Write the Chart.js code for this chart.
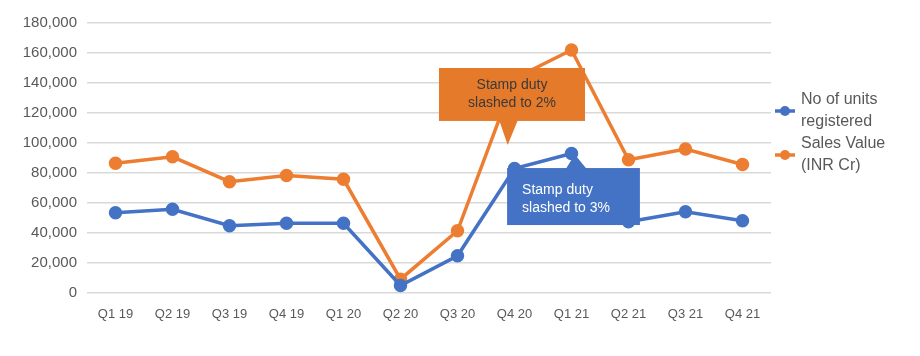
<!DOCTYPE html>
<html>
<head>
<meta charset="utf-8">
<script src="https://cdn.jsdelivr.net/npm/chart.js@4/dist/chart.umd.min.js"></script>
<style>
  html, body { margin: 0; padding: 0; background: #ffffff; }
  #wrap { width: 920px; height: 356px; position: relative; }
</style>
</head>
<body>
<div id="wrap"><canvas id="c" width="920" height="356"></canvas></div>
<script>
const categories = ['Q1 19','Q2 19','Q3 19','Q4 19','Q1 20','Q2 20','Q3 20','Q4 20','Q1 21','Q2 21','Q3 21','Q4 21'];
const unitsRegistered = [53500, 55800, 44800, 46500, 46500, 5000, 24800, 83000, 93000, 47500, 54200, 48200];
const salesValue = [86500, 90800, 74200, 78300, 75800, 9200, 41500, 143000, 162000, 88800, 96000, 85700];
const seriesNames = ['No of units registered', 'Sales Value (INR Cr)'];
const legendLines = [['No of units', 'registered'], ['Sales Value', '(INR Cr)']];
const yTicksMax = 180000;
const yStep = 20000;

const BLUE = '#4472C4';
const ORANGE = '#ED7D31';
const TXT = '#595959';
const FONT = '"Liberation Sans", Arial, sans-serif';

// callouts anchored in data coordinates (category index, value)
const callouts = [
  { lines: ['Stamp duty', 'slashed to 2%'], fill: '#E57A2A', color: '#3a3a3a', align: 'center',
    box: [5.675, 8.237, 150000, 114700], base: [6.73, 7.06], tip: [6.88, 98700], dir: 'down', textDy: 0 },
  { lines: ['Stamp duty', 'slashed to 3%'], fill: '#4472C4', color: '#ffffff', align: 'left',
    box: [6.87, 9.2, 83300, 45300], base: [7.9, 8.24], tip: [8.06, 92500], dir: 'up', textDy: 3 }
];

const calloutPlugin = {
  id: 'callouts',
  afterDatasetsDraw(chart) {
    const ctx = chart.ctx, xs = chart.scales.x, ys = chart.scales.y;
    callouts.forEach(c => {
      const x1 = xs.getPixelForValue(c.box[0]), x2 = xs.getPixelForValue(c.box[1]);
      const y1 = ys.getPixelForValue(c.box[2]), y2 = ys.getPixelForValue(c.box[3]);
      const bx1 = xs.getPixelForValue(c.base[0]), bx2 = xs.getPixelForValue(c.base[1]);
      const tx = xs.getPixelForValue(c.tip[0]), ty = ys.getPixelForValue(c.tip[1]);
      const baseY = c.dir === 'down' ? y2 : y1;
      ctx.save();
      ctx.fillStyle = c.fill;
      ctx.fillRect(x1, y1, x2 - x1, y2 - y1);
      ctx.beginPath();
      ctx.moveTo(bx1, baseY + (c.dir === 'down' ? -1 : 1));
      ctx.lineTo(tx, ty);
      ctx.lineTo(bx2, baseY + (c.dir === 'down' ? -1 : 1));
      ctx.closePath();
      ctx.fill();
      ctx.fillStyle = c.color;
      ctx.font = '14px ' + FONT;
      ctx.textBaseline = 'middle';
      const cy = (y1 + y2) / 2 + c.textDy;
      c.lines.forEach((t, i) => {
        const ly = cy + (i - (c.lines.length - 1) / 2) * 18;
        if (c.align === 'center') { ctx.textAlign = 'center'; ctx.fillText(t, (x1 + x2) / 2, ly); }
        else { ctx.textAlign = 'left'; ctx.fillText(t, x1 + 15, ly); }
      });
      ctx.restore();
    });
  }
};

const legendPlugin = {
  id: 'sideLegend',
  afterDraw(chart) {
    const ctx = chart.ctx;
    const lx = chart.chartArea.right + 4;
    const centers = [111, 155];
    chart.data.datasets.forEach((ds, i) => {
      const cy = centers[i];
      ctx.save();
      ctx.strokeStyle = ds.borderColor;
      ctx.lineWidth = 3.5;
      ctx.beginPath(); ctx.moveTo(lx, cy); ctx.lineTo(lx + 20, cy); ctx.stroke();
      ctx.fillStyle = ds.borderColor;
      ctx.beginPath(); ctx.arc(lx + 10, cy, 5, 0, Math.PI * 2); ctx.fill();
      ctx.fillStyle = TXT;
      ctx.font = '16px ' + FONT;
      ctx.textAlign = 'left';
      ctx.textBaseline = 'middle';
      legendLines[i].forEach((t, j) => ctx.fillText(t, lx + 26, cy - 11 + j * 22));
      ctx.restore();
    });
  }
};

new Chart(document.getElementById('c'), {
  type: 'line',
  data: {
    labels: categories,
    datasets: [
      { label: seriesNames[0], data: unitsRegistered, borderColor: BLUE, backgroundColor: BLUE,
        borderWidth: 3.5, pointRadius: 5, pointHoverRadius: 5, tension: 0, fill: false },
      { label: seriesNames[1], data: salesValue, borderColor: ORANGE, backgroundColor: ORANGE,
        borderWidth: 3.5, pointRadius: 5, pointHoverRadius: 5, tension: 0, fill: false }
    ]
  },
  options: {
    responsive: false,
    animation: false,
    devicePixelRatio: 1,
    layout: { padding: { left: 0, right: 149, top: 23, bottom: 0 } },
    plugins: { legend: { display: false }, tooltip: { enabled: false } },
    scales: {
      x: {
        offset: true,
        grid: { display: false, drawTicks: false },
        border: { display: false },
        ticks: { color: TXT, font: { family: FONT, size: 13 }, padding: 14, maxRotation: 0, autoSkip: false },
        afterFit(s) { s.height = 63; }
      },
      y: {
        min: 0, max: yTicksMax,
        grid: { color: '#d9d9d9', lineWidth: 1.5, drawTicks: false },
        border: { display: false },
        ticks: { stepSize: yStep, color: TXT, font: { family: FONT, size: 15 }, padding: 10,
          callback: v => v.toLocaleString('en-US') },
        afterFit(s) { s.width = 87; }
      }
    }
  },
  plugins: [calloutPlugin, legendPlugin]
});
</script>
</body>
</html>
